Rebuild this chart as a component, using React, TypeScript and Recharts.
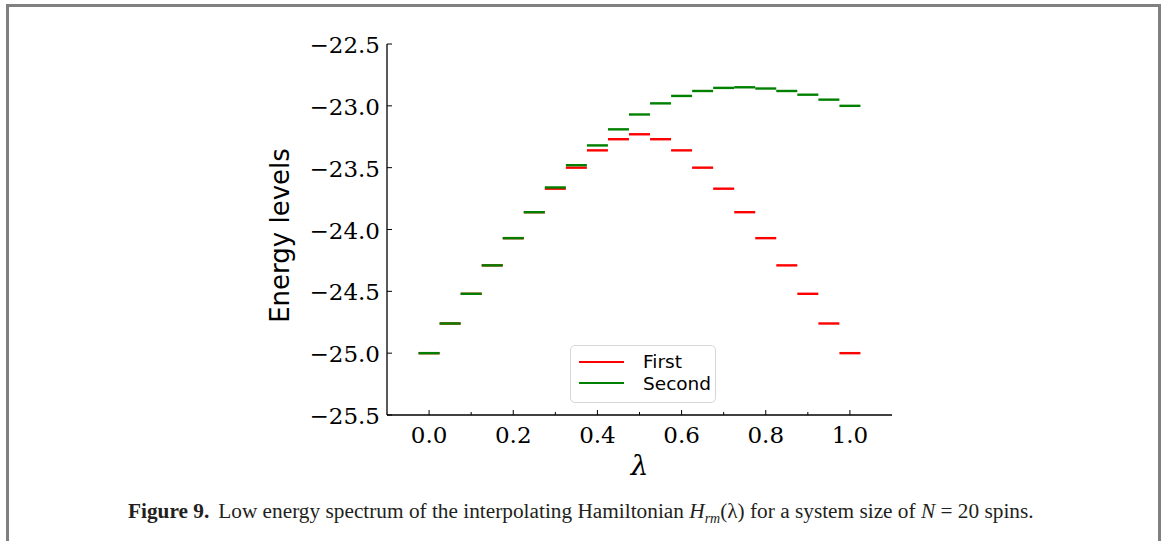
import React from 'react';
import { ScatterChart, Scatter, XAxis, YAxis, Legend } from 'recharts';

// lambda grid and the two lowest energy levels
const lambdaValues = [0, 0.05, 0.1, 0.15, 0.2, 0.25, 0.3, 0.35, 0.4, 0.45, 0.5, 0.55, 0.6, 0.65, 0.7, 0.75, 0.8, 0.85, 0.9, 0.95, 1.0];
const firstLevel = [-25.0, -24.76, -24.52, -24.29, -24.07, -23.86, -23.67, -23.5, -23.36, -23.27, -23.23, -23.27, -23.36, -23.5, -23.67, -23.86, -24.07, -24.29, -24.52, -24.76, -25.0];
const secondLevel = [-25.0, -24.76, -24.52, -24.29, -24.07, -23.86, -23.66, -23.48, -23.32, -23.19, -23.07, -22.98, -22.92, -22.88, -22.855, -22.85, -22.86, -22.88, -22.91, -22.95, -23.0];

const xTicks = [0, 0.1, 0.2, 0.3, 0.4, 0.5, 0.6, 0.7, 0.8, 0.9, 1.0];
const xLabelTicks = [0, 0.2, 0.4, 0.6, 0.8, 1.0];
const yTicks = [-25.5, -25.0, -24.5, -24.0, -23.5, -23.0, -22.5];

const firstData = lambdaValues.map((x, i) => ({ x, y: firstLevel[i] }));
const secondData = lambdaValues.map((x, i) => ({ x, y: secondLevel[i] }));

const W = 1165;
const H = 541;
const tickFont = '"DejaVu Serif", serif';
const sansFont = '"DejaVu Sans", sans-serif';

const fmt = (v: number) => v.toFixed(1).replace('-', '\u2212');
const isMajorX = (v: number) => xLabelTicks.some(t => Math.abs(t - v) < 1e-6);

// horizontal dash marker, like matplotlib's "_"
const Dash = (props: any) => {
  const { cx, cy, fill } = props;
  if (cx == null || cy == null) return null;
  return <line x1={cx - 10.5} x2={cx + 10.5} y1={cy} y2={cy} stroke={fill} strokeWidth={2.4} />;
};

const BottomTick = (props: any) => {
  const { x, y, payload } = props;
  const major = isMajorX(payload.value);
  return (
    <g>
      <line x1={x} x2={x} y1={y} y2={y - (major ? 5 : 3)} stroke="#000" strokeWidth={1} />
      {major && (
        <text x={x} y={y + 20} textAnchor="middle" dominantBaseline="central"
          fontFamily={tickFont} fontSize={23} fill="#000">{fmt(payload.value)}</text>
      )}
    </g>
  );
};

const TopTick = (props: any) => {
  const { x, y, payload } = props;
  const major = isMajorX(payload.value);
  return <line x1={x} x2={x} y1={y} y2={y + (major ? 5 : 3)} stroke="#000" strokeWidth={1} />;
};

const LeftTick = (props: any) => {
  const { x, y, payload } = props;
  return (
    <g>
      <line x1={x} x2={x + 5} y1={y} y2={y} stroke="#000" strokeWidth={1} />
      <text x={x - 7} y={y + 1} textAnchor="end" dominantBaseline="central"
        fontFamily={tickFont} fontSize={23} fill="#000">{fmt(payload.value)}</text>
    </g>
  );
};

const RightTick = (props: any) => {
  const { x, y } = props;
  return <line x1={x} x2={x - 5} y1={y} y2={y} stroke="#000" strokeWidth={1} />;
};

const YLabel = (props: any) => {
  const vb = props.viewBox || {};
  const cx = vb.x + vb.width - 107;
  const cy = vb.y + vb.height / 2 + 6;
  return (
    <text x={cx} y={cy} transform={`rotate(-90 ${cx} ${cy})`} textAnchor="middle" dominantBaseline="central"
      fontFamily={sansFont} fontSize={26} fill="#000">Energy levels</text>
  );
};

const XLabel = (props: any) => {
  const vb = props.viewBox || {};
  return (
    <text x={vb.x + vb.width / 2} y={vb.y + 50} textAnchor="middle" dominantBaseline="central"
      fontFamily={tickFont} fontStyle="italic" fontSize={28} fill="#000">λ</text>
  );
};

const LegendBox = () => (
  <div style={{
    position: 'relative', width: 146, height: 58, boxSizing: 'border-box',
    border: '1.5px solid #d6d6d6', borderRadius: 5, background: 'rgba(255,255,255,0.8)',
    fontFamily: sansFont, fontSize: 18.5, color: '#000'
  }}>
    <div style={{ position: 'absolute', left: 8, top: 15, width: 45, height: 2.4, background: '#ff0000' }} />
    <div style={{ position: 'absolute', left: 72, top: 5, lineHeight: '22px' }}>First</div>
    <div style={{ position: 'absolute', left: 8, top: 36, width: 45, height: 2.4, background: '#008000' }} />
    <div style={{ position: 'absolute', left: 72, top: 27, lineHeight: '22px' }}>Second</div>
  </div>
);

export default function App() {
  return (
    <div style={{ position: 'fixed', left: 0, top: 0, width: W, height: H, overflow: 'hidden', background: '#fff' }}>
      <div style={{
        position: 'absolute', left: 6, top: 4, width: 1155, height: 620,
        boxSizing: 'border-box', border: '3px solid #808080'
      }} />
      <div style={{ position: 'absolute', left: 0, top: 0 }}>
        <ScatterChart width={W} height={H} margin={{ top: 44, right: 273, bottom: 96, left: 307 }}>
          <XAxis xAxisId="b" dataKey="x" type="number" domain={[-0.1, 1.1]} ticks={xTicks}
            height={30} tickSize={0} tickMargin={0} tickLine={false} tick={<BottomTick />}
            axisLine={{ stroke: '#000', strokeWidth: 1.3 }} interval={0} allowDataOverflow
            label={<XLabel />} />
          <XAxis xAxisId="t" orientation="top" dataKey="x" type="number" domain={[-0.1, 1.1]} ticks={xTicks}
            height={0} tickSize={0} tickMargin={0} tickLine={false} tick={<TopTick />}
            axisLine={{ stroke: '#000', strokeWidth: 1.3 }} interval={0} allowDataOverflow />
          <YAxis yAxisId="l" dataKey="y" type="number" domain={[-25.5, -22.5]} ticks={yTicks}
            width={80} tickSize={0} tickMargin={0} tickLine={false} tick={<LeftTick />}
            axisLine={{ stroke: '#000', strokeWidth: 1.3 }} interval={0} allowDataOverflow
            label={<YLabel />} />
          <YAxis yAxisId="r" orientation="right" dataKey="y" type="number" domain={[-25.5, -22.5]} ticks={yTicks}
            width={0} tickSize={0} tickMargin={0} tickLine={false} tick={<RightTick />}
            axisLine={{ stroke: '#000', strokeWidth: 1.3 }} interval={0} allowDataOverflow />
          <Legend layout="vertical" align="center" verticalAlign="middle" content={<LegendBox />}
            wrapperStyle={{ position: 'absolute', left: 570, top: 345, width: 146, height: 58 }} />
          <Scatter name="First" data={firstData} xAxisId="b" yAxisId="l" fill="#ff0000"
            shape={<Dash />} isAnimationActive={false} />
          <Scatter name="Second" data={secondData} xAxisId="b" yAxisId="l" fill="#008000"
            shape={<Dash />} isAnimationActive={false} />
        </ScatterChart>
      </div>
      <div style={{
        position: 'absolute', left: 128, top: 499, whiteSpace: 'nowrap',
        fontFamily: '"Liberation Serif", serif', fontSize: 21.3, color: '#231f20'
      }}>
        <b>Figure 9.</b>
        <span style={{ marginLeft: 9 }}>Low energy spectrum of the interpolating Hamiltonian </span>
        <i>H</i><sub style={{ fontSize: 14, fontStyle: 'italic' }}>rm</sub>(λ) for a system size of <i>N</i> = 20 spins.
      </div>
    </div>
  );
}
